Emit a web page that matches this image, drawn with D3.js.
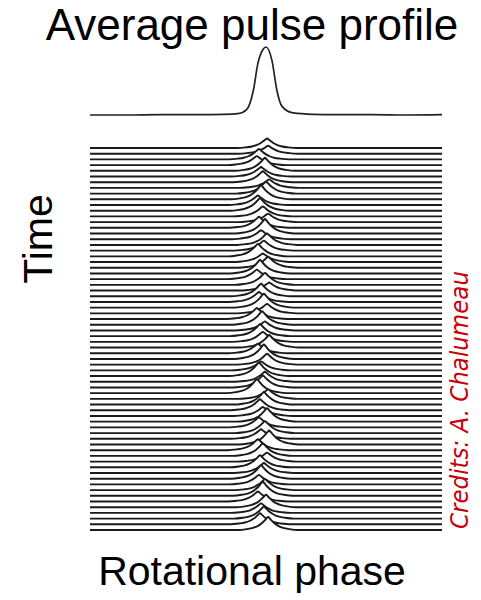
<!DOCTYPE html>
<html>
<head>
<meta charset="utf-8">
<script src="https://cdn.jsdelivr.net/npm/d3@7"></script>
<style>
  html, body { margin: 0; padding: 0; background: #fff; }
  svg { display: block; }
</style>
</head>
<body>
<div id="chart"></div>
<script>
// ---------------- DATA ----------------
// Average pulse profile (rotational phase 0..1, normalised intensity)
const avgPhase = [0.000, 0.100, 0.200, 0.300, 0.380, 0.420, 0.445, 0.464, 0.477, 0.491, 0.500, 0.517, 0.531, 0.545, 0.577, 0.634, 0.700, 0.800, 0.900, 1.000];
const avgIntensity = [0.00, 0.00, 0.005, 0.005, 0.01, 0.02, 0.08, 0.36, 0.76, 0.96, 1.00, 0.80, 0.36, 0.13, 0.03, 0.01, 0.005, 0.005, 0.00, 0.005];

// Single-pulse shape template (phase offset from pulse centre, relative height)
const shapeOffset = [-0.085, -0.060, -0.043, -0.030, -0.019, -0.011, -0.005, 0, 0.005, 0.011, 0.019, 0.030, 0.043, 0.060, 0.085];
const shapeHeight = [0.00, 0.07, 0.16, 0.30, 0.50, 0.70, 0.88, 1.00, 0.88, 0.70, 0.50, 0.30, 0.16, 0.07, 0.00];

// Individual pulses, top (earliest) to bottom: centre phase and peak height
const pulsePhase = [0.503, 0.506, 0.480, 0.474, 0.497, 0.486, 0.491, 0.509, 0.500, 0.486, 0.477, 0.483, 0.491, 0.506, 0.480, 0.497, 0.486, 0.503,
  0.494, 0.477, 0.491, 0.506, 0.483, 0.474, 0.497, 0.509, 0.486, 0.480, 0.494, 0.503, 0.474, 0.489, 0.497, 0.483, 0.491, 0.509, 0.477, 0.494,
  0.503, 0.486, 0.480, 0.497, 0.491, 0.474, 0.506, 0.494, 0.483, 0.491, 0.503, 0.480, 0.497, 0.486, 0.509, 0.477, 0.491, 0.503, 0.483, 0.494,
  0.486, 0.480, 0.497, 0.491, 0.477, 0.500, 0.486, 0.494, 0.483, 0.506];
const pulseHeight = [1.9, 1.6, 2.1, 1.8, 2.6, 1.9, 2.2, 1.7, 2.4, 2.8, 1.9, 2.5, 2.0, 1.7, 2.2, 2.9, 1.8, 2.3,
  2.0, 2.5, 1.7, 2.2, 2.7, 1.9, 2.4, 1.6, 2.5, 2.0, 2.8, 1.9, 2.2, 2.7, 1.8, 2.4, 2.0, 2.5, 1.9, 2.9,
  2.2, 1.8, 2.7, 2.0, 2.4, 2.8, 1.9, 2.5, 2.2, 1.8, 2.7, 2.0, 2.4, 1.9, 2.8, 2.2, 2.5, 1.8, 2.4, 2.0,
  2.7, 1.9, 2.2, 2.8, 2.0, 2.5, 1.9, 2.4, 2.2, 2.6];

const titleText = "Average pulse profile";
const xLabel = "Rotational phase";
const yLabel = "Time";
const creditText = "Credits: A. Chalumeau";

// ---------------- DRAW ----------------
const W = 481, H = 600;
const svg = d3.select("#chart").append("svg").attr("width", W).attr("height", H);

const x = d3.scaleLinear().domain([0, 1]).range([90, 442]);
const yAvg = d3.scaleLinear().domain([0, 1]).range([115, 47]);

const nRows = pulsePhase.length;
const yRow = d3.scaleLinear().domain([0, nRows - 1]).range([148, 530]);
const rowUnit = 5.0; // px per unit of single-pulse height

// Average profile
const avgData = avgPhase.map((p, i) => [p, avgIntensity[i]]);
svg.append("path")
  .datum(avgData)
  .attr("fill", "none")
  .attr("stroke", "#222")
  .attr("stroke-width", 1.7)
  .attr("d", d3.line().x(d => x(d[0])).y(d => yAvg(d[1])).curve(d3.curveMonotoneX));

// Stacked single pulses
const g = svg.append("g");
pulsePhase.forEach((c, i) => {
  const base = yRow(i);
  const pts = [[0, 0]];
  shapeOffset.forEach((o, k) => pts.push([c + o, shapeHeight[k] * pulseHeight[i]]));
  pts.push([1, 0]);
  const yy = v => base - v * rowUnit;
  g.append("path")
    .datum(pts)
    .attr("fill", "#fff")
    .attr("stroke", "none")
    .attr("d", d3.area().x(d => x(d[0])).y0(base + 0.8).y1(d => yy(d[1])).curve(d3.curveMonotoneX));
  g.append("path")
    .datum(pts)
    .attr("fill", "none")
    .attr("stroke", "#1a1a1a")
    .attr("stroke-width", 1.9)
    .attr("d", d3.line().x(d => x(d[0])).y(d => yy(d[1])).curve(d3.curveMonotoneX));
});

// Texts
const font = "'Liberation Sans', Arial, sans-serif";
svg.append("text")
  .attr("x", 252).attr("y", 40)
  .attr("text-anchor", "middle")
  .attr("font-family", font).attr("font-size", 44)
  .attr("fill", "#000")
  .text(titleText);

svg.append("text")
  .attr("x", 252).attr("y", 585)
  .attr("text-anchor", "middle")
  .attr("font-family", font).attr("font-size", 41)
  .attr("fill", "#000")
  .text(xLabel);

svg.append("text")
  .attr("transform", "translate(52,239) rotate(-90)")
  .attr("text-anchor", "middle")
  .attr("font-family", font).attr("font-size", 41)
  .attr("fill", "#000")
  .text(yLabel);

svg.append("text")
  .attr("transform", "translate(468,529) rotate(-90)")
  .attr("text-anchor", "start")
  .attr("font-family", "'DejaVu Sans', sans-serif")
  .attr("font-style", "italic")
  .attr("font-size", 24)
  .attr("textLength", 258)
  .attr("lengthAdjust", "spacingAndGlyphs")
  .attr("fill", "#c8000a")
  .text(creditText);
</script>
</body>
</html>
